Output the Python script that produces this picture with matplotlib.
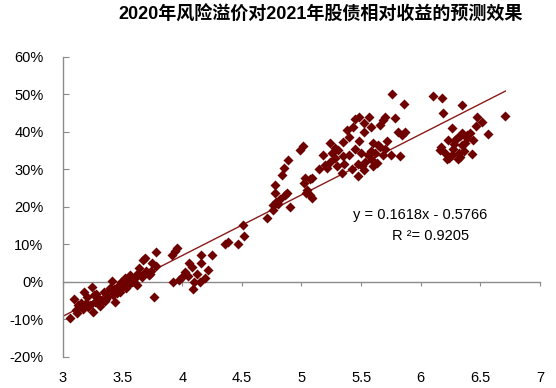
import matplotlib
matplotlib.use("Agg")
import matplotlib.pyplot as plt
from matplotlib.ticker import FuncFormatter
import numpy as np

plt.rcParams['font.family'] = ['Liberation Sans', 'Noto Sans CJK SC', 'DejaVu Sans']

title = "2020年风险溢价对2021年股债相对收益的预测效果"
eq_text = "y = 0.1618x - 0.5766"
r2_text = "R ²= 0.9205"
slope, intercept = 0.1618, -0.5766

# (risk premium, relative return %)
cluster_a = [(3.06,-9.6),(3.09,-4.5),(3.13,-6.1),(3.11,-7.5),(3.17,-7.2),(3.18,-2.7),(3.20,-4.0),
             (3.24,-1.4),(3.23,-6.1),(3.25,-8.0),(3.27,-5.3),(3.29,-4.2),(3.31,-6.3),(3.34,-2.7),
             (3.36,-4.5),(3.39,-1.6),(3.41,0.3),(3.38,-3.8),(3.44,-5.3),(3.45,-3.0),(3.49,0.0),
             (3.48,-2.6),(3.52,1.0),(3.53,-1.5),(3.56,1.9),(3.58,0.0),(3.60,1.0),(3.63,2.4),
             (3.64,3.7),(3.67,5.9),(3.69,2.4),(3.72,1.8),(3.15,-5.5),(3.21,-6.8),(3.26,-3.5),
             (3.30,-5.8),(3.33,-4.8),(3.35,-5.0),(3.40,-2.2),(3.42,-3.5),(3.46,-1.8),(3.50,-1.0),
             (3.55,-0.5),(3.57,0.8),(3.61,1.5),(3.62,-0.8),(3.66,1.2),(3.70,2.8),(3.73,2.0),
             (3.74,3.0),(3.76,-4.0),(3.78,4.2),(3.12,-8.3),(3.19,-5.6),(3.28,-3.2),(3.37,-3.0),
             (3.43,-2.0),(3.47,-0.8),(3.51,0.5),(3.54,-1.2),(3.59,0.2)]
cluster_b = [(3.78,8.0),(3.69,6.4),(3.75,5.0),(3.91,7.2),(3.94,8.2),(3.96,9.0),(3.92,0.0),
             (3.97,0.6),(4.00,1.3),(4.02,2.7),(4.06,5.0),(4.08,4.0),(4.10,0.0),(4.15,0.0),
             (4.09,-2.0),(4.16,7.2),(4.16,5.0),(4.22,3.2),(4.25,7.2),(4.36,10.1),(4.38,10.6),
             (4.47,10.1),(4.05,1.5),(4.12,2.2),(4.19,1.0)]
cluster_c = [(4.51,15.2),(4.52,12.2),(4.71,17.1),(4.76,20.5),(4.79,21.3),(4.76,19.3),(4.80,20.8),
             (4.86,23.2),(4.88,23.8),(4.90,20.0),(4.78,23.7),(4.78,25.9),(4.84,28.5),(4.85,30.4),
             (4.89,32.5),(4.99,35.2),(5.01,36.2),(5.03,27.7),(5.07,27.4),(5.02,26.4),(5.05,24.5),
             (5.07,23.2),(5.09,22.4),(5.04,23.8),(4.82,22.0)]
cluster_d = [(5.76,50.1),(5.86,47.5),(5.48,44.0),(5.45,43.5),(5.57,44.0),(5.70,44.0),(5.68,43.2),
             (5.78,43.7),(5.43,41.3),(5.58,41.3),(5.66,41.9),(5.52,40.0),(5.81,40.0),(5.87,40.0),
             (5.84,39.2),(5.40,38.7),(5.48,37.6),(5.35,37.3),(5.24,37.1),(5.60,37.1),(5.28,35.7),
             (5.31,35.2),(5.66,36.0),(5.70,35.5),(5.18,33.9),(5.26,34.4),(5.35,33.6),(5.40,33.9),
             (5.56,33.9),(5.62,34.4),(5.68,33.9),(5.75,33.9),(5.83,33.6),(5.20,31.2),(5.24,32.0),
             (5.36,31.5),(5.47,31.5),(5.51,30.9),(5.53,32.0),(5.59,32.5),(5.63,31.7),(5.21,30.4),
             (5.34,29.1),(5.47,28.3),(5.52,29.9),(5.09,27.7),(5.58,35.0),(5.64,36.5),(5.45,35.5),
             (5.50,34.5),(5.30,31.0),(5.42,30.0),(5.15,30.0),(5.60,30.8),(5.72,37.5),(5.38,40.5),
             (5.52,42.5),(5.28,33.0)]
cluster_e = [(6.10,49.6),(6.18,49.1),(6.35,47.2),(6.19,45.1),(6.71,44.3),(6.47,44.0),(6.51,42.7),
             (6.46,41.6),(6.26,41.0),(6.56,39.5),(6.35,39.7),(6.39,39.2),(6.30,38.4),(6.39,38.4),
             (6.44,37.9),(6.23,37.9),(6.29,37.9),(6.35,36.5),(6.17,36.0),(6.16,35.2),(6.27,35.5),
             (6.26,33.9),(6.32,34.4),(6.33,33.3),(6.43,34.1),(6.22,32.8),(6.24,33.1),(6.31,32.8),
             (6.37,37.0),(6.33,38.9),(6.41,39.8),(6.28,36.8),(6.20,34.5),(6.36,35.0)]

points = cluster_a + cluster_b + cluster_c + cluster_d + cluster_e
xs = np.array([p[0] for p in points])
ys = np.array([p[1] for p in points]) / 100.0

x_ticks = [3, 3.5, 4, 4.5, 5, 5.5, 6, 6.5, 7]
y_ticks = [-0.2, -0.1, 0, 0.1, 0.2, 0.3, 0.4, 0.5, 0.6]

fig = plt.figure(figsize=(5.56, 3.88), dpi=100)
ax = fig.add_axes([0.1133, 0.0799, 0.8579, 0.7732])

marker_color = '#6e0000'
line_color = '#8b1a1a'
axis_gray = '#8c8c8c'

ax.scatter(xs, ys, marker='D', s=26, color=marker_color, linewidths=0, zorder=3)
lx = np.array([3.0, xs.max()])
ax.plot(lx, slope * lx + intercept, color=line_color, lw=1.0, zorder=2)

ax.set_xlim(3, 7)
ax.set_ylim(-0.2, 0.6)
ax.set_yticks(y_ticks)
ax.yaxis.set_major_formatter(FuncFormatter(lambda v, p: f"{int(round(v*100))}%"))

for s in ['top', 'right']:
    ax.spines[s].set_visible(False)
ax.spines['left'].set_color(axis_gray)
ax.spines['left'].set_linewidth(1.0)
ax.spines['bottom'].set_position(('data', 0))
ax.spines['bottom'].set_color(axis_gray)
ax.spines['bottom'].set_linewidth(1.0)

ax.tick_params(axis='y', direction='in', length=4, color=axis_gray, labelsize=10.5, pad=14)
ax.set_xticks(x_ticks)
ax.tick_params(axis='x', direction='out', length=3, color=axis_gray, labelbottom=False)

sec = ax.secondary_xaxis('bottom')
sec.set_xticks(x_ticks)
sec.xaxis.set_major_formatter(FuncFormatter(lambda v, p: f"{v:g}"))
sec.tick_params(length=0, labelsize=10.5, pad=10)
sec.spines['bottom'].set_visible(False)

fig.text(0.577, 0.962, title, ha='center', va='center', fontsize=13, fontweight='bold')
fig.text(420/556, 1-215/388, eq_text, ha='center', va='center', fontsize=10.5)
fig.text(431/556, 1-236/388, r2_text, ha='center', va='center', fontsize=10.5)

fig.savefig('out.png', dpi=100)
